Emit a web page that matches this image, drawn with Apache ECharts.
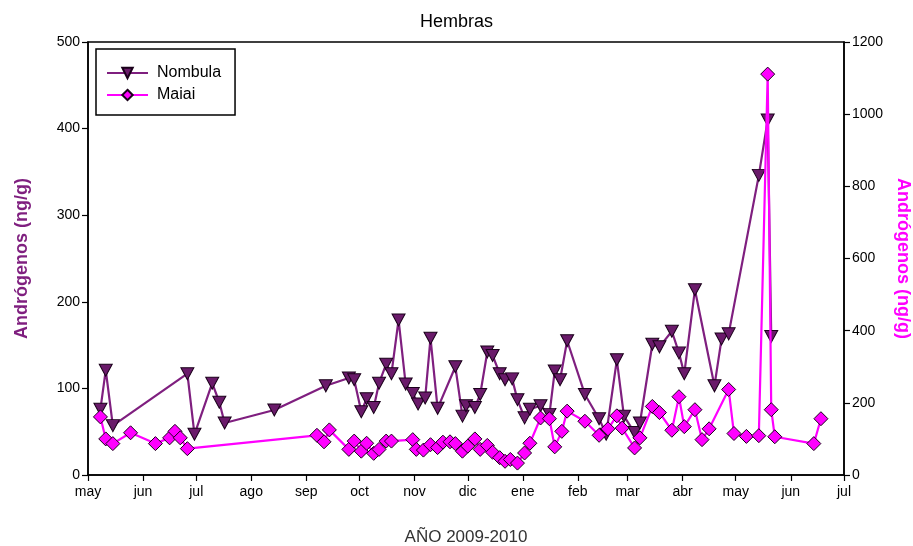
<!DOCTYPE html>
<html>
<head>
<meta charset="utf-8">
<script src="https://cdn.jsdelivr.net/npm/echarts@6/dist/echarts.min.js"></script>
<style>
html,body{margin:0;padding:0;background:#fff;}
#chart{width:913px;height:546px;}
</style>
</head>
<body>
<div id="chart"></div>
<script>
var monthLabels = ['ene','feb','mar','abr','may','jun','jul','ago','sep','oct','nov','dic'];

var nombulaDates = ['2009-05-08','2009-05-11','2009-05-15','2009-06-26','2009-06-30','2009-07-10','2009-07-14','2009-07-17','2009-08-14','2009-09-12','2009-09-25','2009-09-28','2009-10-02','2009-10-05','2009-10-09','2009-10-12','2009-10-16','2009-10-19','2009-10-23','2009-10-27','2009-10-31','2009-11-03','2009-11-07','2009-11-10','2009-11-14','2009-11-24','2009-11-28','2009-11-30','2009-12-05','2009-12-08','2009-12-12','2009-12-15','2009-12-19','2009-12-22','2009-12-26','2009-12-29','2010-01-02','2010-01-05','2010-01-11','2010-01-16','2010-01-19','2010-01-22','2010-01-26','2010-02-05','2010-02-13','2010-02-17','2010-02-23','2010-02-27','2010-03-05','2010-03-08','2010-03-15','2010-03-19','2010-03-26','2010-03-30','2010-04-02','2010-04-08','2010-04-19','2010-04-23','2010-04-27','2010-05-14','2010-05-19','2010-05-21'];
var nombulaValues = [76,121,57,117,47,106,84,60,75,103,112,110,73,88,78,106,128,117,179,105,94,82,89,158,77,125,68,80,78,93,142,138,117,110,111,87,66,76,80,70,120,110,155,93,65,47,133,68,49,60,151,148,166,141,117,214,103,157,163,346,410,160];

var maiaiDates = ['2009-05-08','2009-05-11','2009-05-15','2009-05-25','2009-06-08','2009-06-16','2009-06-19','2009-06-22','2009-06-26','2009-09-07','2009-09-11','2009-09-14','2009-09-25','2009-09-28','2009-10-02','2009-10-05','2009-10-09','2009-10-12','2009-10-16','2009-10-19','2009-10-31','2009-11-02','2009-11-06','2009-11-10','2009-11-14','2009-11-17','2009-11-21','2009-11-24','2009-11-28','2009-12-01','2009-12-05','2009-12-08','2009-12-12','2009-12-15','2009-12-19','2009-12-22','2009-12-25','2009-12-29','2010-01-02','2010-01-05','2010-01-11','2010-01-16','2010-01-19','2010-01-23','2010-01-26','2010-02-05','2010-02-13','2010-02-18','2010-02-23','2010-02-26','2010-03-05','2010-03-08','2010-03-15','2010-03-19','2010-03-26','2010-03-30','2010-04-02','2010-04-08','2010-04-12','2010-04-16','2010-04-27','2010-04-30','2010-05-07','2010-05-14','2010-05-19','2010-05-21','2010-05-23','2010-06-14','2010-06-18'];
var maiaiValues = [161,100,87,117,87,103,121,103,73,110,92,125,71,94,66,88,60,71,94,94,98,71,69,84,76,91,92,87,66,80,100,71,82,63,48,38,43,33,61,88,158,156,78,121,177,149,110,128,164,130,75,103,190,173,124,217,134,181,98,128,237,115,107,109,1111,181,106,87,156];

var xMin = '2009-05-01', xMax = '2010-07-01';
var leftTicks = {min: 0, max: 500, interval: 100};
var rightTicks = {min: 0, max: 1200, interval: 200};

function pairs(d, v) { return d.map(function (x, i) { return [x, v[i]]; }); }

var chart = echarts.init(document.getElementById('chart'), null, {renderer: 'canvas'});
var FONT = '"Liberation Sans", Arial, sans-serif';
var DAY = 86400000;

chart.setOption({
  animation: false,
  backgroundColor: '#fff',
  textStyle: {fontFamily: FONT},
  title: {
    text: 'Hembras', left: 'center', top: 8,
    textStyle: {fontFamily: FONT, fontSize: 18, fontWeight: 'normal', color: '#000'}
  },
  legend: {
    orient: 'vertical', left: 96, top: 49,
    padding: [16, 14, 12, 10],
    itemWidth: 41, itemHeight: 13, itemGap: 6,
    borderColor: '#000', borderWidth: 1.5,
    textStyle: {fontFamily: FONT, fontSize: 16, color: '#000', padding: [0, 0, 0, 4]},
    data: ['Nombula', 'Maiai']
  },
  grid: {left: 88, right: 69, top: 42, bottom: 71, outerBoundsMode: 'none', containLabel: false,
         show: true, borderColor: '#000', borderWidth: 1.5, backgroundColor: 'transparent'},
  xAxis: {
    type: 'time', min: xMin, max: xMax,
    minInterval: 28 * DAY, maxInterval: 31 * DAY,
    name: 'AÑO 2009-2010', nameLocation: 'middle', nameGap: 54,
    nameTextStyle: {fontFamily: FONT, fontSize: 17, color: '#333'},
    axisLine: {lineStyle: {color: '#000', width: 1.5}},
    axisTick: {show: true, length: 6, lineStyle: {color: '#000', width: 1.2}},
    axisLabel: {
      fontFamily: FONT, fontSize: 14, color: '#000', margin: 10, hideOverlap: false,
      showMinLabel: true, showMaxLabel: true,
      formatter: function (val) { return monthLabels[new Date(val).getMonth()]; }
    },
    splitLine: {show: false}
  },
  yAxis: [{
    type: 'value', position: 'left', min: leftTicks.min, max: leftTicks.max, interval: leftTicks.interval,
    name: 'Andrógenos (ng/g)', nameLocation: 'middle', nameGap: 57, nameRotate: 90,
    nameTextStyle: {fontFamily: FONT, fontSize: 18, fontWeight: 'bold', color: '#7F1F7F'},
    axisLine: {show: true, lineStyle: {color: '#000', width: 1.5}},
    axisTick: {show: true, length: 6, lineStyle: {color: '#000', width: 1.2}},
    axisLabel: {fontFamily: FONT, fontSize: 14, color: '#000', margin: 8},
    splitLine: {show: false}
  }, {
    type: 'value', position: 'right', min: rightTicks.min, max: rightTicks.max, interval: rightTicks.interval,
    name: 'Andrógenos (ng/g)', nameLocation: 'middle', nameGap: 48, nameRotate: -90,
    nameTextStyle: {fontFamily: FONT, fontSize: 18, fontWeight: 'bold', color: '#FF00FF'},
    axisLine: {show: true, lineStyle: {color: '#000', width: 1.5}},
    axisTick: {show: true, length: 6, lineStyle: {color: '#000', width: 1.2}},
    axisLabel: {fontFamily: FONT, fontSize: 14, color: '#000', margin: 8,
                formatter: function (v) { return String(v); }},
    splitLine: {show: false}
  }],
  series: [{
    name: 'Nombula', type: 'line', yAxisIndex: 0,
    data: pairs(nombulaDates, nombulaValues),
    symbol: 'triangle', symbolRotate: 180, symbolSize: [13, 12],
    lineStyle: {color: '#7F1F7F', width: 2.2},
    itemStyle: {color: '#6A1A6A', borderColor: '#1a001a', borderWidth: 1},
    z: 2
  }, {
    name: 'Maiai', type: 'line', yAxisIndex: 1,
    data: pairs(maiaiDates, maiaiValues),
    symbol: 'diamond', symbolSize: [14, 14],
    lineStyle: {color: '#FF00FF', width: 2.2},
    itemStyle: {color: '#FF00FF', borderColor: '#1a001a', borderWidth: 1},
    z: 3
  }]
});
</script>
</body>
</html>
